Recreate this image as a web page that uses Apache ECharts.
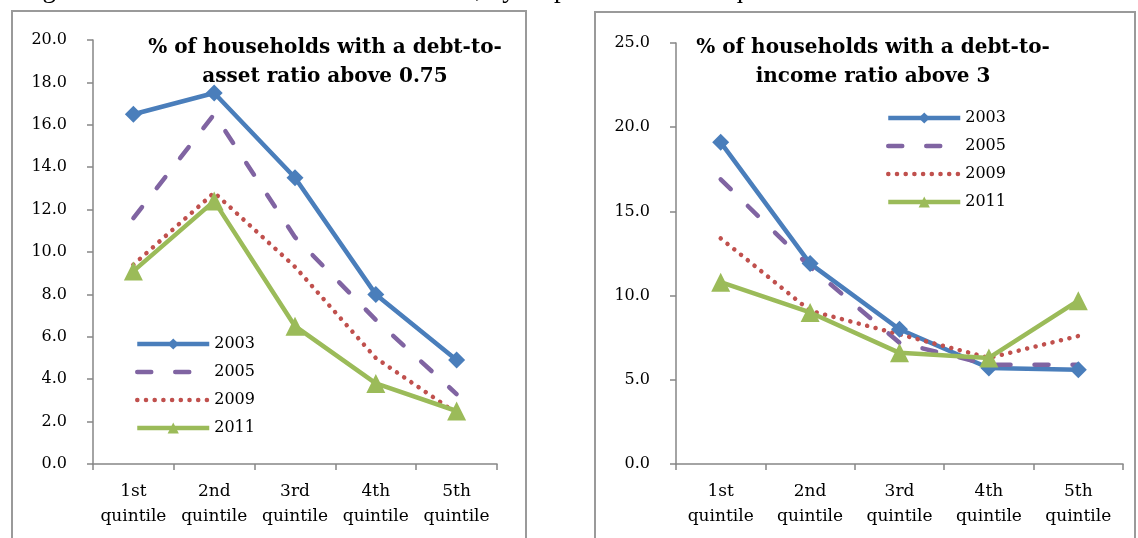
<!DOCTYPE html>
<html>
<head>
<meta charset="utf-8">
<script src="https://cdn.jsdelivr.net/npm/echarts@6/dist/echarts.min.js"></script>
<style>
  html, body { margin: 0; padding: 0; background: #fff; }
  #chart { width: 1138px; height: 538px; }
</style>
</head>
<body>
<div id="chart"></div>
<script>
// Income quintiles shared by both panels
const quintiles = ['1st\nquintile', '2nd\nquintile', '3rd\nquintile', '4th\nquintile', '5th\nquintile'];
const years = ['2003', '2005', '2009', '2011'];

// % of households with a debt-to-asset ratio above 0.75
const assetRatio2003 = [16.5, 17.5, 13.5, 8.0, 4.9];
const assetRatio2005 = [11.6, 16.5, 10.7, 6.8, 3.3];
const assetRatio2009 = [9.4, 12.8, 9.3, 5.0, 2.4];
const assetRatio2011 = [9.1, 12.4, 6.5, 3.8, 2.5];

// % of households with a debt-to-income ratio above 3
const incomeRatio2003 = [19.1, 11.9, 8.0, 5.7, 5.6];
const incomeRatio2005 = [16.9, 11.7, 7.2, 5.9, 5.9];
const incomeRatio2009 = [13.4, 9.1, 7.7, 6.3, 7.6];
const incomeRatio2011 = [10.8, 9.0, 6.6, 6.3, 9.7];

const leftTitle = '% of households with a debt-to-\nasset ratio above 0.75';
const rightTitle = '% of households with a debt-to-\nincome ratio above 3';
const heading = 'Figure 5: Prevalence of over-indebtedness, by disposable income quintile';

const FONT = '"DejaVu Serif", "Liberation Serif", serif';
const AXIS_GREY = '#868686';

// Line look for each survey year
const yearStyle = {
  '2003': { color: '#4A7EBB', line: { width: 4.5, type: 'solid' }, symbol: 'diamond', size: 17 },
  '2005': { color: '#8064A2', line: { width: 4.5, type: [14, 24], cap: 'round' }, symbol: 'none', size: 0 },
  '2009': { color: '#C0504D', line: { width: 4.5, type: [0.1, 8.6], cap: 'round' }, symbol: 'none', size: 0 },
  '2011': { color: '#9BBB59', line: { width: 4.5, type: 'solid' }, symbol: 'triangle', size: 19 }
};

function makeSeries(name, data, axisIndex) {
  const s = yearStyle[name];
  return {
    name: name,
    type: 'line',
    xAxisIndex: axisIndex,
    yAxisIndex: axisIndex,
    data: data,
    symbol: s.symbol,
    symbolSize: s.size,
    showSymbol: s.symbol !== 'none',
    color: s.color,
    itemStyle: { color: s.color },
    lineStyle: Object.assign({ color: s.color }, s.line),
    emphasis: { disabled: true },
    animation: false
  };
}

function makeXAxis(gridIndex) {
  return {
    type: 'category',
    gridIndex: gridIndex,
    data: quintiles,
    boundaryGap: true,
    axisLine: { lineStyle: { color: AXIS_GREY, width: 1.5 } },
    axisTick: { show: true, inside: false, length: 6, alignWithLabel: false, lineStyle: { color: AXIS_GREY, width: 1.5 } },
    axisLabel: { margin: 15, color: '#000', fontFamily: FONT, fontSize: 17, lineHeight: 25, interval: 0 },
    splitLine: { show: false }
  };
}

function makeYAxis(gridIndex, max, interval) {
  return {
    type: 'value',
    gridIndex: gridIndex,
    min: 0,
    max: max,
    interval: interval,
    axisLine: { show: true, lineStyle: { color: AXIS_GREY, width: 1.5 } },
    axisTick: { show: true, inside: false, length: 6, lineStyle: { color: AXIS_GREY, width: 1.5 } },
    axisLabel: { margin: 26, color: '#000', fontFamily: FONT, fontSize: 16, formatter: v => v.toFixed(1) },
    splitLine: { show: false }
  };
}

// Legend entries: line-only years hide the marker the legend would add
const legendItems = years.map(y => (
  yearStyle[y].symbol === 'none'
    ? { name: y, itemStyle: { opacity: 0 } }
    : { name: y }
));

const legendCommon = {
  orient: 'vertical',
  padding: 0,
  itemWidth: 72,
  itemHeight: 14,
  itemGap: 12,
  data: legendItems,
  selectedMode: false,
  lineStyle: { width: 'inherit', type: 'inherit', cap: 'inherit' },
  textStyle: { color: '#000', fontFamily: FONT, fontSize: 16 }
};

const chart = echarts.init(document.getElementById('chart'), null, { renderer: 'canvas' });

chart.setOption({
  backgroundColor: '#fff',
  animation: false,
  grid: [
    { left: 93, right: 641, top: 40, bottom: 74 },
    { left: 676, right: 15, top: 43, bottom: 74 }
  ],
  xAxis: [makeXAxis(0), makeXAxis(1)],
  yAxis: [makeYAxis(0, 20, 2), makeYAxis(1, 25, 5)],
  legend: [
    Object.assign({ left: 135, top: 336 }, legendCommon),
    Object.assign({ left: 886, top: 110 }, legendCommon)
  ],
  series: [
    makeSeries('2003', assetRatio2003, 0),
    makeSeries('2005', assetRatio2005, 0),
    makeSeries('2009', assetRatio2009, 0),
    makeSeries('2011', assetRatio2011, 0),
    makeSeries('2003', incomeRatio2003, 1),
    makeSeries('2005', incomeRatio2005, 1),
    makeSeries('2009', incomeRatio2009, 1),
    makeSeries('2011', incomeRatio2011, 1)
  ],
  graphic: [
    // panel frames
    { type: 'rect', z: -1, shape: { x: 12, y: 11, width: 514, height: 560 },
      style: { fill: 'none', stroke: '#9a9a9a', lineWidth: 2 } },
    { type: 'rect', z: -1, shape: { x: 595, y: 12, width: 540, height: 560 },
      style: { fill: 'none', stroke: '#9a9a9a', lineWidth: 2 } },
    // figure heading running off the top edge
    { type: 'text', style: { x: 20, y: 3, text: heading, fill: '#000',
      font: '27px "Liberation Serif", serif', textVerticalAlign: 'bottom' } },
    // panel titles
    { type: 'text', style: { x: 325, y: 33, text: leftTitle, fill: '#000', textAlign: 'center',
      textVerticalAlign: 'top', lineHeight: 29, font: 'bold 20px "DejaVu Serif", serif' } },
    { type: 'text', style: { x: 873, y: 33, text: rightTitle, fill: '#000', textAlign: 'center',
      textVerticalAlign: 'top', lineHeight: 29, font: 'bold 20px "DejaVu Serif", serif' } }
  ]
});
</script>
</body>
</html>
